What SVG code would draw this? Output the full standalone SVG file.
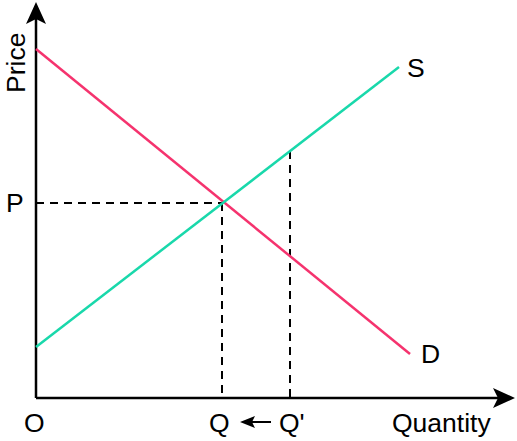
<svg xmlns="http://www.w3.org/2000/svg" width="517" height="441" viewBox="0 0 517 441">
<style>
text{font-family:"Liberation Sans",Arial,sans-serif;font-size:26.5px;fill:#000}
.axis{stroke:#000;stroke-width:2.5;fill:none}
.dash{stroke:#000;stroke-width:2;stroke-dasharray:8 6;fill:none}
</style>
<rect width="517" height="441" fill="#fff"/>
<g id="connectors">
<path class="axis" d="M36 398 V18"/>
<path d="M36 2 L46 24 L36 19 L26 24 Z" fill="#000"/>
<path class="axis" d="M36 398 H498"/>
<path d="M515 398 L493 408 L498 398 L493 388 Z" fill="#000"/>
<path class="dash" d="M36 203 H222"/>
<path class="dash" d="M222 203 V398"/>
<path class="dash" d="M290 151 V398"/>
<path d="M271 422 H252" stroke="#000" stroke-width="2"/>
<path d="M240 422 L255 416 L252 422 L255 428 Z" fill="#000"/>
</g>
<g id="demand"><path d="M36 49 L410 354" stroke="#f5336e" stroke-width="2.5" fill="none"/><text x="421" y="363">D</text></g>
<g id="supply"><path d="M36 347 L399 67" stroke="#19d8ab" stroke-width="2.5" fill="none"/><text x="407" y="77">S</text></g>
<g id="labels">
<text transform="translate(25,93) rotate(-90)">Price</text>
<text x="6" y="212">P</text>
<text x="24" y="432">O</text>
<text x="209" y="432">Q</text>
<text x="279" y="432">Q'</text>
<text x="392" y="432">Quantity</text>
</g>
</svg>
